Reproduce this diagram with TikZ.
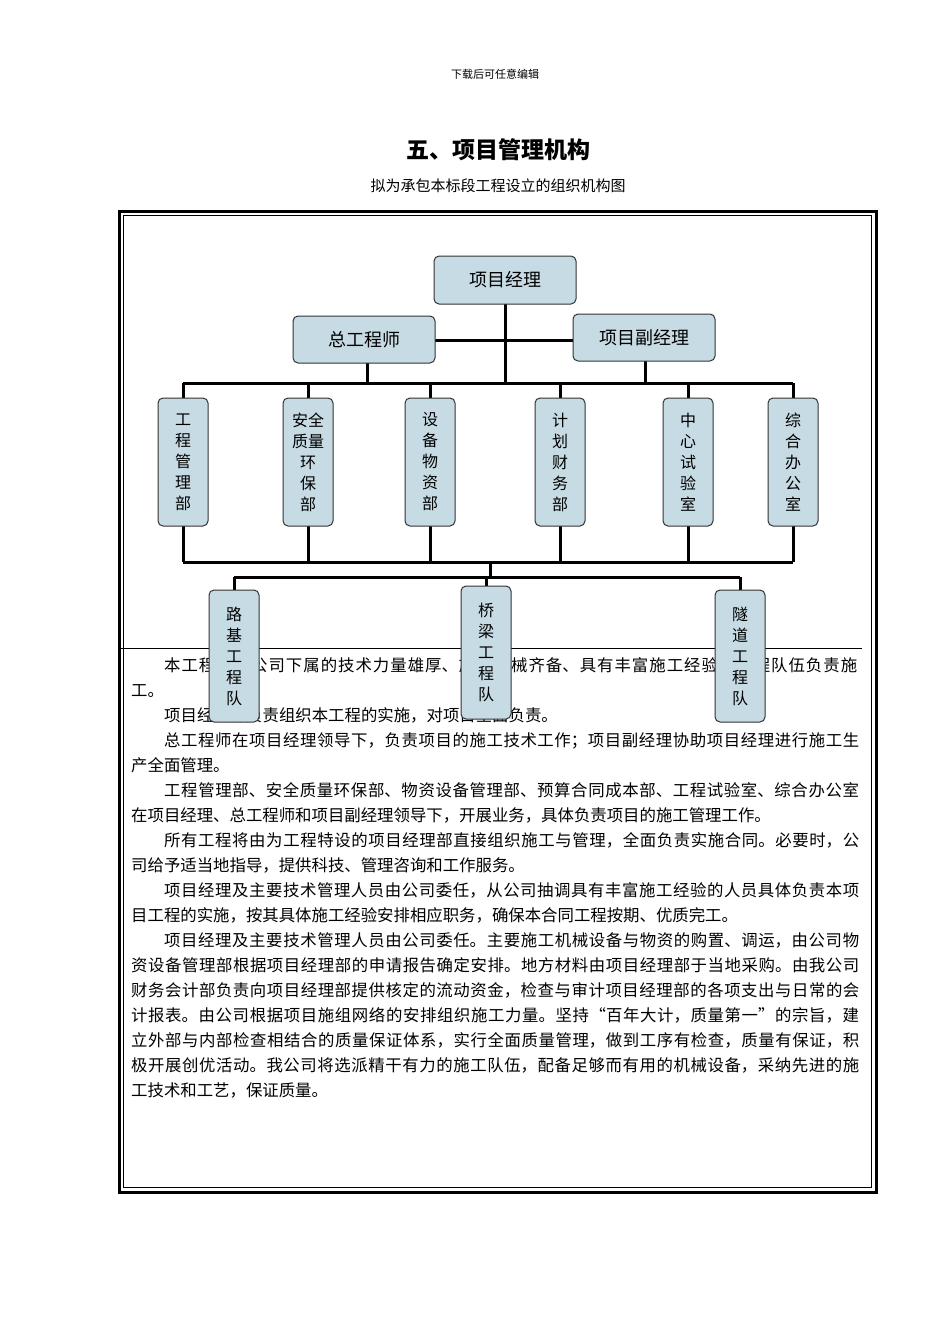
\documentclass[tikz,border=0pt]{standalone}
\usepackage{fontspec}
\setmainfont{Noto Sans CJK SC}
\begin{document}
\begin{tikzpicture}[x=1pt,y=-1pt,
 bx/.style={draw=black!80,line width=1pt,fill=cyan!8!teal!25!white,rounded corners=5pt,inner sep=0pt,align=center,font=\fontsize{18}{21}\selectfont},
 vb/.style={bx,minimum width=50pt,font=\fontsize{16}{21}\selectfont},
 ln/.style={line width=3pt}]
\useasboundingbox (0,0) rectangle (950,1344);
\node (hd) at (495,74) {\fontsize{11}{13}\selectfont 下载后可任意编辑};
\node (tt) at (498,150) {\fontsize{23}{26}\selectfont\bfseries 五、项目管理机构};
\node (st) at (498,186) {\fontsize{15}{18}\selectfont 拟为承包本标段工程设立的组织机构图};
\draw[line width=3pt] (119,211) rectangle (876,1192);
\draw[line width=0.6pt] (123.5,215.5) rectangle (871.5,1187.5);
\draw[line width=0.8pt] (121,648) -- (862,648);
\node[anchor=north west,inner sep=0pt,text width=731pt] (body) at (131,657) {\fontsize{16.4}{25}\selectfont
\XeTeXlinebreaklocale "zh"\XeTeXlinebreakskip=0pt plus 4pt\parindent=33pt\emergencystretch=40pt
\indent 本工程由我公司下属的技术力量雄厚、施工机械齐备、具有丰富施工经验的工程队伍负责施\linebreak 工。\par
\indent 项目经理部负责组织本工程的实施，对项目全面负责。\par
\indent 总工程师在项目经理领导下，负责项目的施工技术工作；项目副经理协助项目经理进行施工生\linebreak 产全面管理。\par
\indent 工程管理部、安全质量环保部、物资设备管理部、预算合同成本部、工程试验室、综合办公室\linebreak 在项目经理、总工程师和项目副经理领导下，开展业务，具体负责项目的施工管理工作。\par
\indent 所有工程将由为工程特设的项目经理部直接组织施工与管理，全面负责实施合同。必要时，公\linebreak 司给予适当地指导，提供科技、管理咨询和工作服务。\par
\indent 项目经理及主要技术管理人员由公司委任，从公司抽调具有丰富施工经验的人员具体负责本项\linebreak 目工程的实施，按其具体施工经验安排相应职务，确保本合同工程按期、优质完工。\par
\indent 项目经理及主要技术管理人员由公司委任。主要施工机械设备与物资的购置、调运，由公司物\linebreak 资设备管理部根据项目经理部的申请报告确定安排。地方材料由项目经理部于当地采购。由我公司\linebreak 财务会计部负责向项目经理部提供核定的流动资金，检查与审计项目经理部的各项支出与日常的会\linebreak 计报表。由公司根据项目施组网络的安排组织施工力量。坚持“百年大计，质量第一”的宗旨，建\linebreak 立外部与内部检查相结合的质量保证体系，实行全面质量管理，做到工序有检查，质量有保证，积\linebreak 极开展创优活动。我公司将选派精干有力的施工队伍，配备足够而有用的机械设备，采纳先进的施\linebreak 工技术和工艺，保证质量。\par};
% connectors
\coordinate (c1) at (505,383);
\coordinate (c2) at (490,562);
\coordinate (c3) at (490,577);
\draw[ln] (183,383) -- (793,383);
\draw[ln] (183,562) -- (793,562);
\draw[ln] (234,577) -- (740,577);
\draw[ln] (505,304) -- (c1);
\draw[ln] (435,340) -- (573,340);
\draw[ln] (367,363) -- (367,383);
\draw[ln] (645,361) -- (645,383);
\draw[ln] (c2) -- (c3);
\foreach \x in {183,308,430,560,688,793}{\draw[ln] (\x,383) -- (\x,398); \draw[ln] (\x,526) -- (\x,562);}
\foreach \x/\y in {234/590,486/586,740/590}{\draw[ln] (\x,577) -- (\x,\y);}
% boxes
\node[bx,minimum width=142pt,minimum height=48pt] (pm) at (505,280) {项目经理};
\node[bx,minimum width=142pt,minimum height=47pt] (ce) at (364,339.5) {总工程师};
\node[bx,minimum width=142pt,minimum height=47pt] (vpm) at (644,337.5) {项目副经理};
\node[vb,minimum height=128pt] (d1) at (183,462) {工\\程\\管\\理\\部};
\node[vb,minimum height=128pt] (d2) at (308,462) {安全\\质量\\环\\保\\部};
\node[vb,minimum height=128pt] (d3) at (430,462) {设\\备\\物\\资\\部};
\node[vb,minimum height=128pt] (d4) at (560,462) {计\\划\\财\\务\\部};
\node[vb,minimum height=128pt] (d5) at (688,462) {中\\心\\试\\验\\室};
\node[vb,minimum height=128pt] (d6) at (793,462) {综\\合\\办\\公\\室};
\node[vb,minimum height=132pt] (t1) at (234,656) {路\\基\\工\\程\\队};
\node[vb,minimum height=133pt] (t2) at (486,652.5) {桥\\梁\\工\\程\\队};
\node[vb,minimum height=132pt] (t3) at (740,656) {隧\\道\\工\\程\\队};
\end{tikzpicture}
\end{document}
